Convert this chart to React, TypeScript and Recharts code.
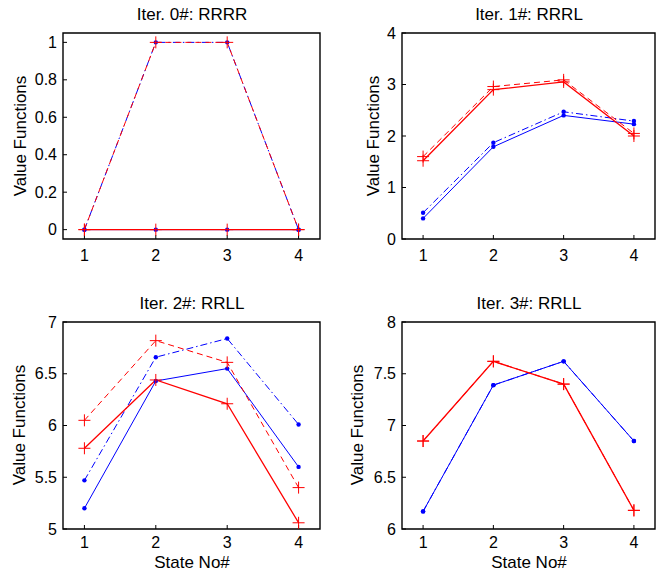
import React from "react";
import { LineChart, Line, XAxis, YAxis, ReferenceArea } from "recharts";

const states = [1, 2, 3, 4];

const iter0RedSolid = [0, 0, 0, 0];
const iter0RedDashed = [0, 1, 1, 0];
const iter0BlueSolid = [0, 0, 0, 0];
const iter0BlueDashDot = [0, 1, 1, 0];

const iter1RedSolid = [1.52, 2.9, 3.05, 2.0];
const iter1RedDashed = [1.6, 2.96, 3.09, 2.05];
const iter1BlueSolid = [0.4, 1.79, 2.4, 2.23];
const iter1BlueDashDot = [0.51, 1.87, 2.47, 2.29];

const iter2RedSolid = [5.78, 6.44, 6.21, 5.06];
const iter2RedDashed = [6.05, 6.82, 6.61, 5.4];
const iter2BlueSolid = [5.2, 6.43, 6.55, 5.6];
const iter2BlueDashDot = [5.47, 6.66, 6.84, 6.01];

const iter3RedSolid = [6.85, 7.62, 7.4, 6.18];
const iter3RedDashed = [6.85, 7.62, 7.4, 6.18];
const iter3BlueSolid = [6.17, 7.39, 7.62, 6.85];
const iter3BlueDashDot = [6.17, 7.39, 7.62, 6.85];

const titles = ["Iter. 0#: RRRR", "Iter. 1#: RRRL", "Iter. 2#: RRLL", "Iter. 3#: RRLL"];
const yTicks0 = [0, 0.2, 0.4, 0.6, 0.8, 1];
const yTicks1 = [0, 1, 2, 3, 4];
const yTicks2 = [5, 5.5, 6, 6.5, 7];
const yTicks3 = [6, 6.5, 7, 7.5, 8];
const xDomain: [number, number] = [0.7, 4.3];
const yLabel = "Value Functions";
const xLabel = "State No#";

const FONT = "'Liberation Sans', Arial, Helvetica, sans-serif";
const RED = "#ff0000";
const BLUE = "#0000ff";

const build = (rs: number[], rd: number[], bs: number[], bd: number[]) =>
  states.map((s, i) => ({ x: s, rs: rs[i], rd: rd[i], bs: bs[i], bd: bd[i] }));

const PlusDot = (props: any) => {
  const { cx, cy, index, dataKey } = props;
  if (cx == null || cy == null) return <g key={`p-${dataKey}-${index}`} />;
  return (
    <path
      key={`p-${dataKey}-${index}`}
      d={`M${cx - 6},${cy}H${cx + 6}M${cx},${cy - 6}V${cy + 6}`}
      stroke={RED}
      strokeWidth={1}
      strokeDasharray="none"
      fill="none"
    />
  );
};

const BlueDot = (props: any) => {
  const { cx, cy, index, dataKey } = props;
  if (cx == null || cy == null) return <g key={`b-${dataKey}-${index}`} />;
  return <circle key={`b-${dataKey}-${index}`} cx={cx} cy={cy} r={2.2} fill={BLUE} stroke="none" />;
};

type PanelProps = {
  left: number;
  top: number;
  width: number;
  height: number;
  plotLeft: number;
  plotTop: number;
  plotRight: number;
  plotBottom: number;
  data: any[];
  yDomain: [number, number];
  yTicks: number[];
  xTickMargin: number;
};

const Panel = ({ left, top, width, height, plotLeft, plotTop, plotRight, plotBottom, data, yDomain, yTicks, xTickMargin }: PanelProps) => {
  const yW = plotLeft - left;
  const xH = top + height - plotBottom;
  const tickStyle = { fontSize: 16, fill: "#000", fontFamily: FONT };
  const tl = { stroke: "#000", strokeWidth: 1 };
  return (
    <div style={{ position: "absolute", left, top, width, height }}>
      <LineChart
        width={width}
        height={height}
        data={data}
        margin={{ top: plotTop - top - 1, left: 0, right: left + width - plotRight - 1, bottom: 0 }}
      >
        <XAxis
          xAxisId="b"
          type="number"
          dataKey="x"
          domain={xDomain}
          ticks={states}
          allowDataOverflow
          height={xH}
          tickSize={-4}
          tickMargin={xTickMargin}
          axisLine={false}
          tickLine={tl}
          tick={tickStyle}
          interval={0}
        />
        <XAxis
          xAxisId="t"
          orientation="top"
          type="number"
          dataKey="x"
          domain={xDomain}
          ticks={states}
          allowDataOverflow
          height={1}
          tickSize={-4}
          axisLine={false}
          tickLine={tl}
          tick={false}
          interval={0}
        />
        <YAxis
          yAxisId="l"
          type="number"
          domain={yDomain}
          ticks={yTicks}
          allowDataOverflow
          width={yW}
          tickSize={-4}
          tickMargin={10}
          axisLine={false}
          tickLine={tl}
          tick={tickStyle}
          interval={0}
        />
        <YAxis
          yAxisId="r"
          orientation="right"
          type="number"
          domain={yDomain}
          ticks={yTicks}
          allowDataOverflow
          width={1}
          tickSize={-4}
          axisLine={false}
          tickLine={tl}
          tick={false}
          interval={0}
        />
        <ReferenceArea
          xAxisId="b"
          yAxisId="l"
          x1={xDomain[0]}
          x2={xDomain[1]}
          y1={yDomain[0]}
          y2={yDomain[1]}
          fill="none"
          fillOpacity={0}
          stroke="#000"
          strokeWidth={1.4}
          ifOverflow="visible"
        />
        <Line xAxisId="b" yAxisId="l" dataKey="bs" stroke={BLUE} strokeWidth={1} dot={BlueDot} isAnimationActive={false} />
        <Line xAxisId="b" yAxisId="l" dataKey="bd" stroke={BLUE} strokeWidth={1} strokeDasharray="7 3 1.5 3" dot={BlueDot} isAnimationActive={false} />
        <Line xAxisId="b" yAxisId="l" dataKey="rd" stroke={RED} strokeWidth={1} strokeDasharray="6 4" dot={PlusDot} isAnimationActive={false} />
        <Line xAxisId="b" yAxisId="l" dataKey="rs" stroke={RED} strokeWidth={1.3} dot={PlusDot} isAnimationActive={false} />
      </LineChart>
    </div>
  );
};

const Txt = ({ x, y, text, rotate }: { x: number; y: number; text: string; rotate?: boolean }) => (
  <div
    style={{
      position: "absolute",
      left: x,
      top: y,
      transform: `translate(-50%, -50%)${rotate ? " rotate(-90deg)" : ""}`,
      fontFamily: FONT,
      fontSize: 17,
      lineHeight: 1,
      whiteSpace: "nowrap",
      color: "#000",
    }}
  >
    {text}
  </div>
);

export default function App() {
  return (
    <div style={{ position: "absolute", left: 0, top: 0, width: 665, height: 576, background: "#fff", overflow: "hidden" }}>
      <Panel left={0} top={0} width={330} height={280} plotLeft={63} plotTop={33} plotRight={320} plotBottom={239} xTickMargin={15}
        data={build(iter0RedSolid, iter0RedDashed, iter0BlueSolid, iter0BlueDashDot)} yDomain={[-0.05, 1.05]} yTicks={yTicks0} />
      <Panel left={330} top={0} width={335} height={280} plotLeft={402} plotTop={33} plotRight={655} plotBottom={239} xTickMargin={15}
        data={build(iter1RedSolid, iter1RedDashed, iter1BlueSolid, iter1BlueDashDot)} yDomain={[0, 4]} yTicks={yTicks1} />
      <Panel left={0} top={280} width={330} height={296} plotLeft={63} plotTop={322} plotRight={320} plotBottom={529} xTickMargin={12}
        data={build(iter2RedSolid, iter2RedDashed, iter2BlueSolid, iter2BlueDashDot)} yDomain={[5, 7]} yTicks={yTicks2} />
      <Panel left={330} top={280} width={335} height={296} plotLeft={402} plotTop={322} plotRight={655} plotBottom={529} xTickMargin={12}
        data={build(iter3RedSolid, iter3RedDashed, iter3BlueSolid, iter3BlueDashDot)} yDomain={[6, 8]} yTicks={yTicks3} />

      <Txt x={192} y={14} text={titles[0]} />
      <Txt x={529} y={14} text={titles[1]} />
      <Txt x={192} y={303} text={titles[2]} />
      <Txt x={529} y={303} text={titles[3]} />

      <Txt x={20} y={136} text={yLabel} rotate />
      <Txt x={373} y={136} text={yLabel} rotate />
      <Txt x={19} y={425} text={yLabel} rotate />
      <Txt x={357} y={425} text={yLabel} rotate />

      <Txt x={192} y={562} text={xLabel} />
      <Txt x={529} y={562} text={xLabel} />
    </div>
  );
}
